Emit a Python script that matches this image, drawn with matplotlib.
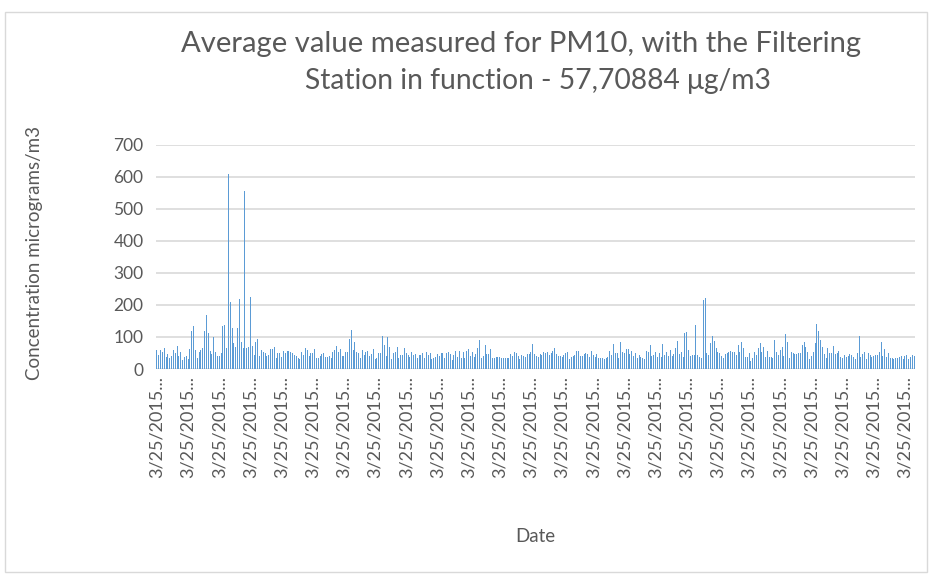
import matplotlib
matplotlib.use("Agg")
import matplotlib.pyplot as plt
from matplotlib.patches import Rectangle
import numpy as np

# PM10 concentration readings (micrograms/m3), read left to right
pm10_part1 = [58, 43, 59, 53, 64, 39, 46, 35, 41, 59, 49, 72, 41, 53, 28, 36, 41, 31, 61, 120,
              134, 59, 33, 53, 59, 67, 120, 170, 111, 57, 47, 100, 52, 41, 41, 49, 134, 136, 66, 608,
              208, 128, 82, 69, 127, 218, 83, 64, 555, 66, 68, 225, 71, 44, 84, 95, 42, 59, 53, 51,
              41, 44, 61, 61, 70, 33, 51, 49, 39, 56, 49, 55, 55]
pm10_part2 = [53, 50, 43, 41, 33, 30, 52, 44, 65, 59, 42, 49, 51, 61, 33, 35, 41, 47, 49, 39,
              36, 42, 33, 54, 59, 72, 54, 61, 42, 42, 53, 54, 93, 121, 59, 84, 54, 51, 35, 59,
              44, 53, 55, 42, 47, 61, 31, 33, 49, 51, 103, 75, 41, 99, 68, 31, 49, 54, 68, 33,
              44, 44, 66, 51]
pm10_part3 = [44, 36, 54, 44, 47, 33, 44, 44, 49, 33, 54, 44, 51, 30, 33, 39, 46, 41, 49, 51,
              33, 51, 54, 47, 28, 44, 56, 39, 57, 35, 53, 33, 57, 61, 41, 53, 36, 46, 65, 91,
              35, 41, 75, 46, 47, 61, 33, 33, 39, 39, 39, 33, 33, 33, 35, 33, 46, 41, 53, 49,
              41, 30, 44, 41, 36, 47]
pm10_part4 = [47, 54, 78, 47, 41, 39, 47, 44, 54, 49, 54, 44, 49, 57, 64, 46, 41, 41, 39, 44,
              51, 53, 30, 39, 41, 44, 56, 56, 41, 41, 47, 51, 46, 39, 56, 44, 39, 47, 35, 35,
              35, 30, 35, 39, 56, 44, 78, 49, 51, 35, 83, 54, 49, 61, 61, 47, 57, 41, 49, 33,
              44, 39, 35, 31, 56, 53, 75, 42, 44, 53, 39, 51]
pm10_part5 = [39, 78, 44, 53, 42, 59, 41, 46, 65, 87, 46, 53, 36, 111, 117, 59, 41, 43, 43, 138,
              44, 39, 35, 216, 222, 51, 44, 82, 103, 87, 65, 53, 49, 41, 33, 47, 51, 53, 56, 54,
              53, 43, 75, 53, 85, 65, 39, 39, 49, 26, 33, 54, 43, 67, 82, 54, 70, 39, 56, 39,
              39, 33, 91, 53, 44, 59, 70, 41, 108, 85, 33, 54, 49, 46, 46, 49, 51, 75]
pm10_part6 = [84, 68, 54, 31, 41, 53, 80, 141, 120, 91, 68, 47, 33, 65, 51, 49, 72, 47, 51, 56,
              39, 33, 44, 39, 41, 46, 44, 39, 30, 51, 103, 39, 47, 53, 31, 51, 44, 39, 41, 43,
              43, 53, 85, 41, 61, 39, 49, 33, 33, 30, 33, 33, 39, 42, 31, 42, 44, 31, 39, 44, 41]

label_text = "3/25/2015..."
label_step = 17
y_ticks = [0, 100, 200, 300, 400, 500, 600, 700]
title_line1 = "Average value measured for PM10, with the Filtering"
title_line2 = "Station in function - 57,70884 \u03bcg/m3"
y_title = "Concentration micrograms/m3"
x_title = "Date"

values = pm10_part1 + pm10_part2 + pm10_part3 + pm10_part4 + pm10_part5 + pm10_part6
n = len(values)
x = np.arange(n)

plt.rcParams['font.family'] = ['Lato', 'DejaVu Sans']
text_color = '#595959'
grid_color = '#D9D9D9'

W, H = 932, 577
fig = plt.figure(figsize=(W / 100, H / 100), dpi=100)
fig.patch.set_facecolor('white')

left, right, top, bottom = 156, 915, 144.7, 369
ax = fig.add_axes([left / W, 1 - bottom / H, (right - left) / W, (bottom - top) / H])
ax.bar(x, values, width=0.5, color='#5B9BD5', linewidth=0, zorder=3)
ax.set_xlim(-0.5, n - 0.5)
ax.set_ylim(0, 700)
ax.set_yticks(y_ticks)
ax.yaxis.grid(True, color=grid_color, linewidth=1.2, zorder=0)
ax.set_axisbelow(True)
for s in ax.spines.values():
    s.set_visible(False)

tick_pos = list(range(0, n, label_step))
ax.set_xticks(tick_pos)
ax.set_xticklabels([label_text] * len(tick_pos), rotation=90, fontsize=13, color=text_color)
ax.tick_params(axis='x', length=0, pad=5)
ax.tick_params(axis='y', length=0, pad=9, labelsize=12.5, labelcolor=text_color)

fig.text(521.5 / W, 1 - 44 / H, title_line1, ha='center', va='center', fontsize=21.1,
         color=text_color)
fig.text(537.5 / W, 1 - 81 / H, title_line2, ha='center', va='center', fontsize=20.3,
         color=text_color)
fig.text(35 / W, 1 - 253 / H, y_title, rotation=90, ha='center', va='center',
         fontsize=13.5, color=text_color)
fig.text(535 / W, 1 - 536 / H, x_title, ha='center', va='center', fontsize=13.5, color=text_color)

fig.add_artist(Rectangle((5 / W, 1 - 572 / H), (927 - 5) / W, (572 - 12) / H,
                         transform=fig.transFigure, fill=False, edgecolor=grid_color, linewidth=1))

fig.savefig('out.png', dpi=100, facecolor='white')
